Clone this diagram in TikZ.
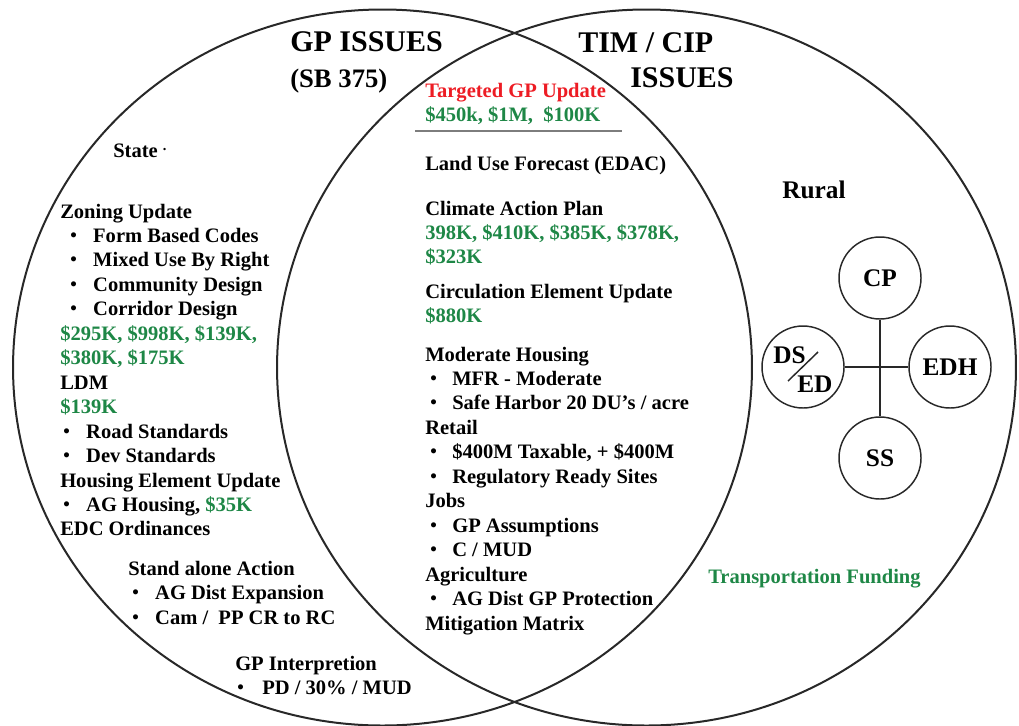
\documentclass[tikz,border=0pt]{standalone}
\usepackage{fontspec}
\setmainfont{Liberation Serif}
\definecolor{vgreen}{RGB}{30,135,70}
\definecolor{vred}{RGB}{237,28,36}
\definecolor{vline}{RGB}{40,40,40}
\definecolor{rulegray}{RGB}{125,125,125}
\newcommand{\smbul}{\raisebox{0.7pt}{\fontsize{14}{15}\selectfont\textbullet}}
\newcommand{\bitem}{\makebox[17.2pt][l]{\smbul}}
\newcommand{\mitem}{\makebox[16.5pt][l]{\smbul}}
\newcommand{\gr}[1]{\textcolor{vgreen}{#1}}
\begin{document}
\begin{tikzpicture}[x=0.75pt,y=-0.75pt,
  txt/.style={anchor=base west, inner sep=0pt, font=\bfseries\fontsize{15.4}{18}\selectfont},
  title/.style={anchor=base west, inner sep=0pt, font=\bfseries\fontsize{22.5}{26}\selectfont},
  subtitle/.style={anchor=base west, inner sep=0pt, font=\bfseries\fontsize{20}{24}\selectfont},
  big/.style={anchor=base west, inner sep=0pt, font=\bfseries\fontsize{19}{22}\selectfont},
  smallcirc/.style={circle, draw=vline, line width=1.1pt, minimum size=61.5pt, inner sep=0pt, font=\bfseries\fontsize{19}{22}\selectfont},
  venn/.style={draw=vline, line width=1.5pt},
  link/.style={draw=vline, line width=1.1pt},
  money/.style={txt, text=vgreen}]
\useasboundingbox (0,0) rectangle (1019,725);
% Venn ellipses
\draw[venn] (382.5,367.5) ellipse [x radius=277.1pt, y radius=268.5pt];
\draw[venn] (646.5,367.5) ellipse [x radius=277.1pt, y radius=268.5pt];

% Titles
\node[title] (gptitle) at (290,51) {GP ISSUES};
\node[subtitle] (sb) at (290,87) {(SB 375)};
\node[title] (timtitle) at (578,52) {TIM / CIP};
\node[title] (timissues) at (630,87) {ISSUES};

% Left block
\node[txt] (state) at (113,157) {State \textsuperscript{.}};
\node[txt] (zu) at (60,218) {Zoning Update};
\node[txt] (fbc) at (70,242.5) {\bitem Form Based Codes};
\node[txt] (mub) at (70,266.9) {\bitem Mixed Use By Right};
\node[txt] (cd) at (70,291.4) {\bitem Community Design};
\node[txt] (cor) at (70,315.8) {\bitem Corridor Design};
\node[money] (zc1) at (60,340.3) {\$295K, \$998K, \$139K,};
\node[money] (zc2) at (60,364.7) {\$380K, \$175K};
\node[txt] (ldm) at (60,389.2) {LDM};
\node[money] (ldmc) at (60,413.6) {\$139K};
\node[txt] (rs) at (63,438.1) {\bitem Road Standards};
\node[txt] (dvs) at (63,462.5) {\bitem Dev Standards};
\node[txt] (heu) at (60,487) {Housing Element Update};
\node[txt] (agh) at (63,511.4) {\bitem AG Housing, \gr{\$35K}};
\node[txt] (edc) at (60,535.9) {EDC Ordinances};

\node[txt] (sa) at (128,575) {Stand alone Action};
\node[txt] (agx) at (132,599) {\bitem AG Dist Expansion};
\node[txt] (cam) at (132,624) {\bitem Cam /\ \ PP CR to RC};
\node[txt] (gpint) at (235,670) {GP Interpretion};
\node[txt] (pd) at (237,694) {\makebox[18.75pt][l]{\smbul}PD / 30\% / MUD};

% Middle block
\node[txt, text=vred] (tgp) at (425,97) {Targeted GP Update};
\node[money] (tgpc) at (425,121) {\$450k, \$1M,\ \ \$100K};
\coordinate (rulel) at (415,131);
\coordinate (ruler) at (622,131);
\draw[rulegray, line width=2.2pt] (rulel) -- (ruler);
\node[txt] (luf) at (425,170) {Land Use Forecast (EDAC)};
\node[txt] (cap) at (425,215) {Climate Action Plan};
\node[money] (capc1) at (425,239) {398K, \$410K, \$385K, \$378K,};
\node[money] (capc2) at (425,263) {\$323K};
\node[txt] (ceu) at (425,298) {Circulation Element Update};
\node[money] (ceuc) at (425,322) {\$880K};
\node[txt] (mh) at (425,361) {Moderate Housing};
\node[txt] (mfr) at (430,385.5) {\mitem MFR - Moderate};
\node[txt] (shb) at (430,409.9) {\mitem Safe Harbor 20 DU’s / acre};
\node[txt] (ret) at (425,434.4) {Retail};
\node[txt] (tax) at (430,458.8) {\mitem \$400M Taxable, + \$400M};
\node[txt] (rrs) at (430,483.3) {\mitem Regulatory Ready Sites};
\node[txt] (jobs) at (425,507.7) {Jobs};
\node[txt] (gpa) at (430,532.2) {\mitem GP Assumptions};
\node[txt] (cmud) at (430,556.6) {\mitem C / MUD};
\node[txt] (agr) at (425,581.1) {Agriculture};
\node[txt] (agp) at (430,605.5) {\mitem AG Dist GP Protection};
\node[txt] (mm) at (425,630) {Mitigation Matrix};

% Right block
\node[big] (rural) at (782,198) {Rural};
\node[smallcirc] (cp) at (880,278) {CP};
\node[smallcirc] (dsed) at (803,367) {};
\node[smallcirc] (edh) at (950,367) {EDH};
\node[smallcirc] (ss) at (880,458) {SS};
\draw[link] (cp) -- (ss);
\draw[link] (dsed) -- (edh);
\node[big] (dstxt) at (773,363) {DS};
\node[big] (edtxt) at (797,392) {ED};
\coordinate (sla) at (788,381);
\coordinate (slb) at (818,352);
\draw[link] (sla) -- (slb);
\node[money] (tf) at (708,583) {Transportation Funding};
\end{tikzpicture}
\end{document}
